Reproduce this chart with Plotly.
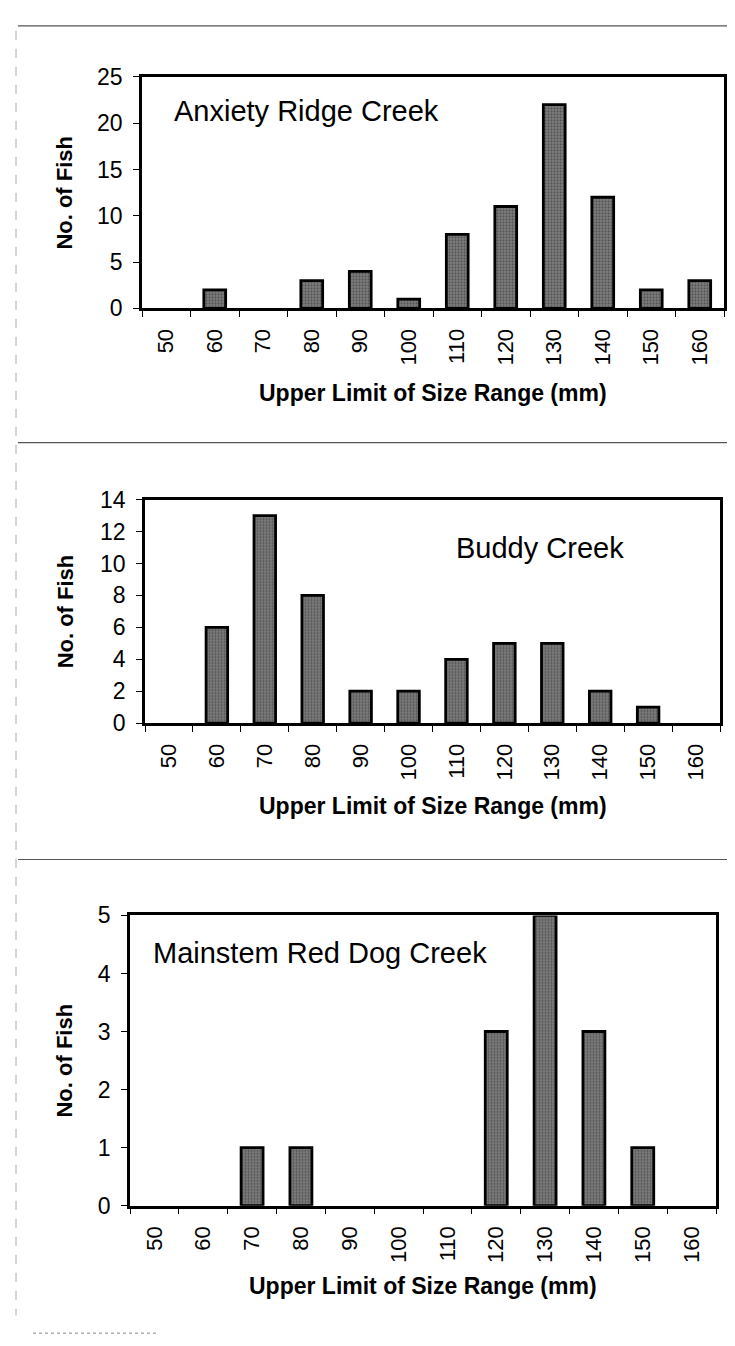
import plotly.graph_objects as go

# --- DATA ---
size_classes = ["50", "60", "70", "80", "90", "100", "110", "120", "130", "140", "150", "160"]
anxiety_ridge = [0, 2, 0, 3, 4, 1, 8, 11, 22, 12, 2, 3]
buddy = [0, 6, 13, 8, 2, 2, 4, 5, 5, 2, 1, 0]
mainstem_red_dog = [0, 0, 1, 1, 0, 0, 0, 3, 5, 3, 1, 0]

panel_names = ["Anxiety Ridge Creek", "Buddy Creek", "Mainstem Red Dog Creek"]
y_max = [25, 14, 5]
y_step = [5, 2, 1]

W, H = 735, 1346
FONT = "Liberation Sans, Arial, sans-serif"

# plot frames in pixels: (left, right, top, bottom)
frames = [(134, 716, 57, 293), (137, 712, 488, 716), (122, 708, 912, 1208)]
# creek label positions (left x, centre y)
labels_pos = [(164, 92), (446, 537), (143, 950)]
xtitle_y = [379, 800, 1290]


def px(x):
    return x / W


def py(y):
    return 1 - y / H


fig = go.Figure()
layout = {}
annotations = []

for i, counts in enumerate([anxiety_ridge, buddy, mainstem_red_dog]):
    n = "" if i == 0 else str(i + 1)
    l, r, t, b = frames[i]
    fig.add_trace(go.Bar(
        x=size_classes,
        y=counts,
        xaxis="x" + n,
        yaxis="y" + n,
        marker=dict(
            color="#666666",
            # no outline on empty classes, so nothing sticks up from the axis
            line=dict(color="black", width=[0 if c == 0 else 2.8 for c in counts]),
            pattern=dict(shape=".", fgcolor="#222222", bgcolor="#7c7c7c",
                         size=3, solidity=0.35),
        ),
        showlegend=False,
    ))
    layout["xaxis" + n] = dict(
        domain=[px(l), px(r)],
        anchor="y" + n,
        type="category",
        categoryarray=size_classes,
        categoryorder="array",
        range=[-0.5, 11.5],
        tickangle=-90,
        ticks="outside",
        tickson="boundaries",
        ticklen=6,
        tickwidth=1,
        tickcolor="black",
        ticklabelstandoff=9,
        showline=True,
        linecolor="black",
        linewidth=2.5,
        mirror=True,
        showgrid=False,
        tickfont=dict(family=FONT, size=22, color="black"),
    )
    layout["yaxis" + n] = dict(
        domain=[py(b), py(t)],
        anchor="x" + n,
        range=[0, y_max[i]],
        dtick=y_step[i],
        ticks="outside",
        ticklen=6,
        tickwidth=1,
        tickcolor="black",
        ticklabelstandoff=6,
        showline=True,
        linecolor="black",
        linewidth=2.5,
        mirror=True,
        showgrid=False,
        zeroline=False,
        tickfont=dict(family=FONT, size=23, color="black"),
    )
    annotations.append(dict(
        text=panel_names[i], xref="paper", yref="paper",
        x=px(labels_pos[i][0]), y=py(labels_pos[i][1]),
        xanchor="left", yanchor="middle", showarrow=False,
        font=dict(family=FONT, size=29, color="black"),
    ))
    annotations.append(dict(
        text="<b>No. of Fish</b>", xref="paper", yref="paper",
        x=px(57), y=py((t + b) / 2), textangle=-90,
        xanchor="center", yanchor="middle", showarrow=False,
        font=dict(family=FONT, size=22, color="black"),
    ))
    annotations.append(dict(
        text="<b>Upper Limit of Size Range (mm)</b>", xref="paper", yref="paper",
        x=px((l + r) / 2), y=py(xtitle_y[i]),
        xanchor="center", yanchor="middle", showarrow=False,
        font=dict(family=FONT, size=23, color="black"),
    ))

# page separators from the scanned page
shapes = []
for y in [5, 430, 855]:
    shapes.append(dict(type="line", xref="paper", yref="paper",
                       x0=px(10), x1=1, y0=py(y), y1=py(y),
                       line=dict(color="#555555", width=1.2)))
shapes.append(dict(type="line", xref="paper", yref="paper",
                   x0=px(8), x1=px(8), y0=py(10), y1=py(1320),
                   line=dict(color="#aaaaaa", width=1, dash="dash")))
shapes.append(dict(type="line", xref="paper", yref="paper",
                   x0=px(25), x1=px(150), y0=py(1338), y1=py(1338),
                   line=dict(color="#888888", width=1, dash="dot")))

fig.update_layout(
    width=W, height=H,
    margin=dict(l=0, r=0, t=0, b=0),
    paper_bgcolor="white",
    plot_bgcolor="white",
    bargap=0.55,
    annotations=annotations,
    shapes=shapes,
    **layout,
)

fig.write_html("out.html")
